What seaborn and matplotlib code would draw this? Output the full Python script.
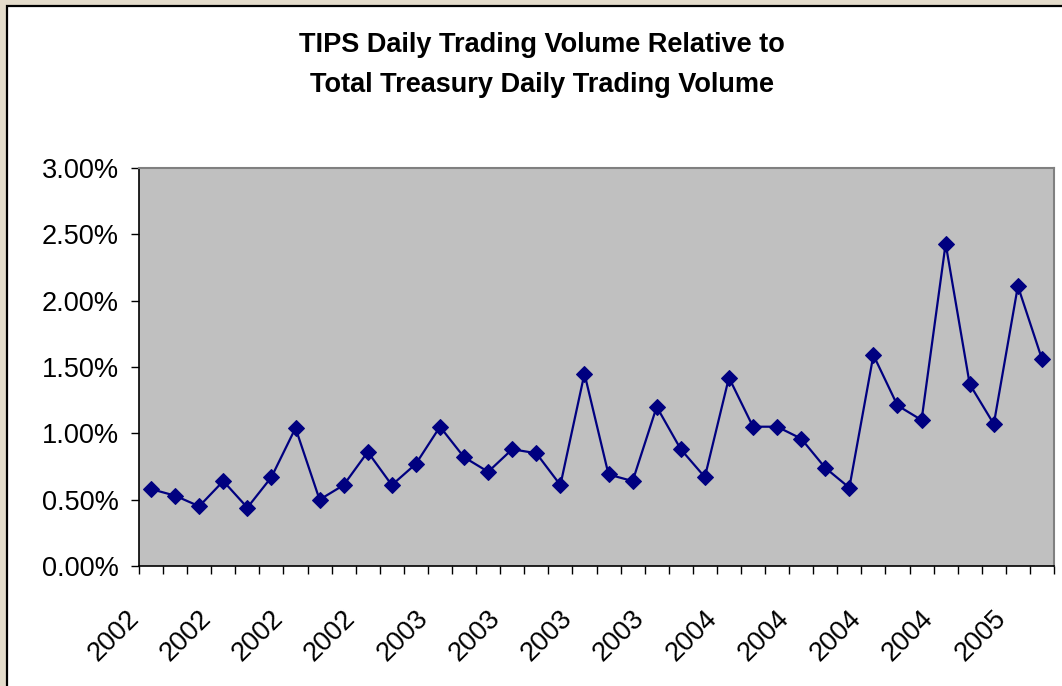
import numpy as np
import pandas as pd
import seaborn as sns
import matplotlib.pyplot as plt
from matplotlib.patches import Rectangle
from matplotlib.ticker import FixedLocator, PercentFormatter
from matplotlib.transforms import ScaledTranslation

# volume share (%), one point per period
volume_pct = [0.58, 0.53, 0.45, 0.64, 0.44, 0.67, 1.04, 0.50, 0.61, 0.86,
              0.61, 0.77, 1.05, 0.82, 0.71, 0.88, 0.85, 0.61, 1.45, 0.69,
              0.64, 1.20, 0.88, 0.67, 1.42, 1.05, 1.05, 0.96, 0.74, 0.59,
              1.59, 1.21, 1.10, 2.43, 1.37, 1.07, 2.11, 1.56]
year_labels = ['2002', '2002', '2002', '2002', '2003', '2003', '2003',
               '2003', '2004', '2004', '2004', '2004', '2005']
label_step = 3

df = pd.DataFrame({'periodo': np.arange(len(volume_pct)), 'volume': volume_pct})

sns.set_style('white')
plt.rcParams['font.family'] = ['Liberation Sans', 'DejaVu Sans']
plt.rcParams['text.color'] = 'black'
plt.rcParams['xtick.color'] = 'black'
plt.rcParams['ytick.color'] = 'black'

fig = plt.figure(figsize=(10.62, 6.86), dpi=100, facecolor='#E4DCCB')
fig.patches.append(Rectangle((7 / 1062, -0.05), 1.1, 1.05 - 6 / 686,
                             transform=fig.transFigure, facecolor='white',
                             edgecolor='black', linewidth=1.6, zorder=-10))

ax = fig.add_axes([139 / 1062, 120 / 686, 915 / 1062, 398 / 686])
ax.set_facecolor('#C0C0C0')

sns.lineplot(data=df, x='periodo', y='volume', ax=ax, color='#000080',
             linewidth=1.6, marker='D', markersize=8, markeredgecolor='#000080')

n = len(volume_pct)
ax.set_xlim(-0.5, n - 0.5)
ax.set_ylim(0, 3)
ax.yaxis.set_major_locator(FixedLocator(np.arange(0, 3.01, 0.5)))
ax.yaxis.set_major_formatter(PercentFormatter(decimals=2))

ax.xaxis.set_major_locator(FixedLocator(np.arange(0, n, label_step)))
ax.set_xticklabels(year_labels, rotation=45, ha='right', va='center',
                   rotation_mode='anchor')
ax.xaxis.set_minor_locator(FixedLocator(np.arange(-0.5, n, 1)))

ax.tick_params(axis='x', which='major', length=0, pad=35, labelsize=19.5)
ax.tick_params(axis='x', which='minor', length=5.5, width=1, color='black',
               direction='out', bottom=True)
ax.tick_params(axis='y', length=5.5, width=1, color='black', direction='out',
               left=True, pad=9, labelsize=19.5)

shift = ScaledTranslation(-0.16, 0, fig.dpi_scale_trans)
for lbl in ax.get_xticklabels():
    lbl.set_transform(lbl.get_transform() + shift)

for side in ['left', 'bottom']:
    ax.spines[side].set_color('black')
    ax.spines[side].set_linewidth(1.2)
for side in ['top', 'right']:
    ax.spines[side].set_color('#808080')
    ax.spines[side].set_linewidth(1.5)

ax.set_xlabel('')
ax.set_ylabel('')

fig.text(0.51, 1 - 45 / 686, 'TIPS Daily Trading Volume Relative to',
         ha='center', va='center', fontsize=19.5, fontweight='bold')
fig.text(0.51, 1 - 85 / 686, 'Total Treasury Daily Trading Volume',
         ha='center', va='center', fontsize=19.5, fontweight='bold')

fig.savefig('out.png', dpi=100, facecolor=fig.get_facecolor())
